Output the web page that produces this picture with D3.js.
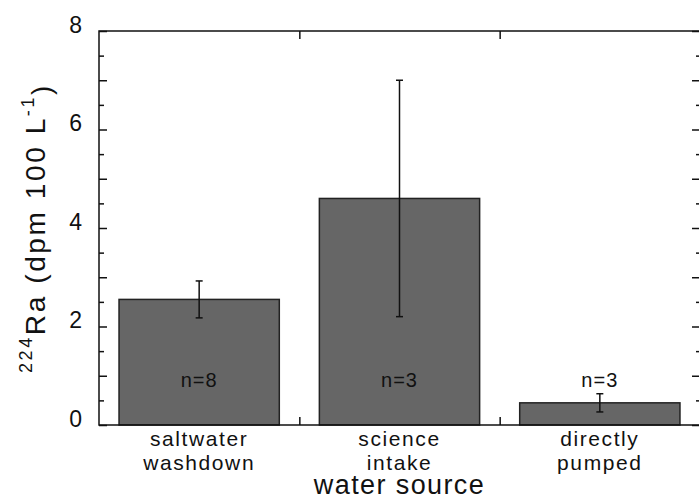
<!DOCTYPE html>
<html>
  <head>
    <meta charset="UTF-8" />
    <script src="https://cdn.jsdelivr.net/npm/d3@7"></script>
    <title>224Ra by water source</title>
    <style type="text/css">
      body { margin: 0; background: #fff; }
      svg text { font-family: "Liberation Sans", Arial, Helvetica, sans-serif; fill: #111; }
    </style>
  </head>
  <body>
    <div id="chartcontainer"></div>
    <script>
      // data
      var categories = [["saltwater", "washdown"], ["science", "intake"], ["directly", "pumped"]];
      var values = [2.55, 4.6, 0.45];
      var errors = [0.375, 2.4, 0.185];
      var counts = [8, 3, 3];
      var yLabelTicks = [0, 2, 4, 6, 8];

      var W = 699, H = 500;
      var margin = { top: 31, right: -1, bottom: 75, left: 99 };
      var width = W - margin.left - margin.right,
        height = H - margin.top - margin.bottom;

      var svg = d3
        .select("#chartcontainer")
        .append("svg")
        .attr("width", W)
        .attr("height", H);

      var g = svg
        .append("g")
        .attr("transform", "translate(" + margin.left + "," + margin.top + ")");

      var keys = categories.map(function (d) { return d.join(" "); });

      var x = d3
        .scaleBand()
        .domain(keys)
        .range([0, width])
        .paddingInner(0.2)
        .paddingOuter(0.1);

      // linear scale for the separators between the categories
      var xb = d3.scaleLinear().domain([0, keys.length]).range([0, width]);

      var y = d3.scaleLinear().domain([0, 8]).range([height, 0]);

      // bars
      g.selectAll(".bar")
        .data(values)
        .enter()
        .append("rect")
        .attr("class", "bar")
        .attr("x", function (d, i) { return x(keys[i]); })
        .attr("y", function (d) { return y(d); })
        .attr("width", x.bandwidth())
        .attr("height", function (d) { return y(0) - y(d); })
        .attr("fill", "#666666")
        .attr("stroke", "#222")
        .attr("stroke-width", 1.5);

      // error bars
      var cx = function (i) { return x(keys[i]) + x.bandwidth() / 2; };
      var err = g.selectAll(".err").data(values).enter().append("g").attr("class", "err")
        .attr("stroke", "#111").attr("stroke-width", 1.5);
      err.append("line")
        .attr("x1", function (d, i) { return cx(i); })
        .attr("x2", function (d, i) { return cx(i); })
        .attr("y1", function (d, i) { return y(d - errors[i]); })
        .attr("y2", function (d, i) { return y(d + errors[i]); });
      [-1, 1].forEach(function (s) {
        err.append("line")
          .attr("x1", function (d, i) { return cx(i) - 3.5; })
          .attr("x2", function (d, i) { return cx(i) + 3.5; })
          .attr("y1", function (d, i) { return y(d + s * errors[i]); })
          .attr("y2", function (d, i) { return y(d + s * errors[i]); });
      });

      // n= labels
      g.selectAll(".nlab")
        .data(counts)
        .enter()
        .append("text")
        .attr("class", "nlab")
        .attr("x", function (d, i) { return cx(i); })
        .attr("y", y(0) - 38)
        .attr("text-anchor", "middle")
        .style("font-size", "20px")
        .style("letter-spacing", "1px")
        .text(function (d) { return "n=" + d; });

      // frame
      g.append("rect")
        .attr("x", 0).attr("y", 0)
        .attr("width", width).attr("height", height)
        .attr("fill", "none")
        .attr("stroke", "#111")
        .attr("stroke-width", 1.5);

      function styleAxis(sel) {
        sel.select(".domain").remove();
        sel.selectAll(".tick line").attr("stroke", "#111").attr("stroke-width", 1.5);
      }

      var major = d3.range(0, 8.01, 1), minor = d3.range(0.5, 8, 1);

      // left axis
      g.append("g")
        .call(d3.axisLeft(y).tickValues(major).tickSize(-8).tickPadding(17)
          .tickFormat(function (d) { return yLabelTicks.indexOf(d) >= 0 ? d : ""; }))
        .call(styleAxis)
        .call(function (a) {
          a.selectAll("text").style("font-size", "23px").attr("dy", "0.05em").attr("fill", "#111");
        });
      g.append("g")
        .call(d3.axisLeft(y).tickValues(minor).tickSize(-5).tickFormat(""))
        .call(styleAxis);

      // right axis
      g.append("g")
        .attr("transform", "translate(" + width + ",0)")
        .call(d3.axisRight(y).tickValues(major).tickSize(-8).tickFormat(""))
        .call(styleAxis);
      g.append("g")
        .attr("transform", "translate(" + width + ",0)")
        .call(d3.axisRight(y).tickValues(minor).tickSize(-4).tickFormat(""))
        .call(styleAxis);

      // top / bottom separators
      g.append("g")
        .call(d3.axisTop(xb).tickValues([1, 2]).tickSize(-8).tickFormat(""))
        .call(styleAxis);
      g.append("g")
        .attr("transform", "translate(0," + height + ")")
        .call(d3.axisBottom(xb).tickValues([1, 2]).tickSize(-8).tickFormat(""))
        .call(styleAxis);

      // category labels
      var cat = g.selectAll(".cat")
        .data(categories)
        .enter()
        .append("text")
        .attr("class", "cat")
        .attr("text-anchor", "middle")
        .style("font-size", "21px")
        .style("letter-spacing", "1.6px");
      cat.each(function (d, i) {
        var t = d3.select(this);
        d.forEach(function (line, j) {
          t.append("tspan")
            .attr("x", cx(i))
            .attr("y", height + 21 + j * 24)
            .text(line);
        });
      });

      // x title
      g.append("text")
        .attr("x", xb(1.5))
        .attr("y", height + 69)
        .attr("text-anchor", "middle")
        .style("font-size", "27px")
        .style("letter-spacing", "1.4px")
        .text("water source");

      // y title
      var yt = svg.append("text")
        .attr("transform", "translate(40," + (margin.top + height / 2) + ") rotate(-90)")
        .attr("text-anchor", "middle")
        .style("font-size", "28px")
        .style("letter-spacing", "2.6px");
      yt.append("tspan").attr("dy", "-0.45em").style("font-size", "18px").text("224");
      yt.append("tspan").attr("dy", "0.45em").text("Ra (dpm 100 L");
      yt.append("tspan").attr("dy", "-0.6em").style("font-size", "18px").text("-1");
      yt.append("tspan").attr("dy", "0.6em").text(")");
    </script>
  </body>
</html>
